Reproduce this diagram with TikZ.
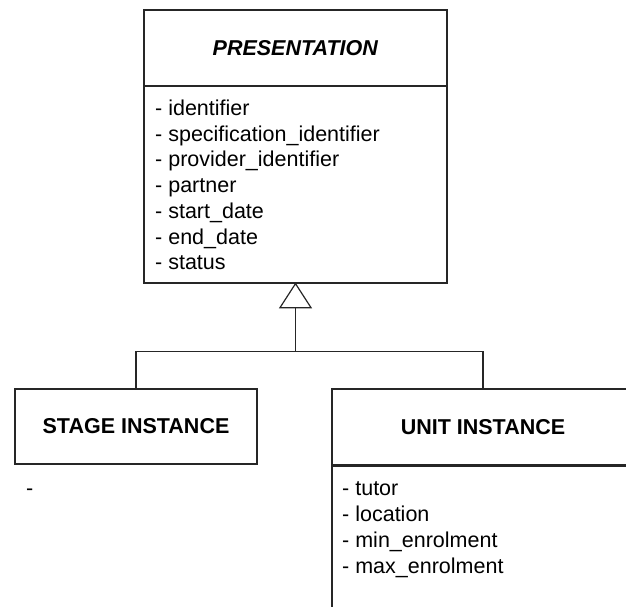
\documentclass[tikz,border=0pt]{standalone}
\usepackage{fontspec}
\setmainfont{Liberation Sans}
\usetikzlibrary{calc}
\begin{document}
\begin{tikzpicture}[
  x={(1pt,0)}, y={(0,-1pt)},
  every node/.style={font=\fontsize{21.5}{25.7}\selectfont},
  umlbox/.style={draw=black!85, line width=1.3pt, rectangle, inner sep=0pt},
  attr/.style={inner sep=0pt, anchor=base west},
  link/.style={draw=black!85, line width=1.2pt},
]
\useasboundingbox (0,0) rectangle (626,607);
\clip (0,0) rectangle (626,607);

% Abstract superclass
\node[umlbox, minimum width=303pt, minimum height=76pt] (presH) at (295.5,48)
  {\textbf{\textit{PRESENTATION}}};
\node[umlbox, minimum width=303pt, minimum height=197pt] (presB) at (295.5,184.5) {};
\foreach \t [count=\i] in {identifier, specification\_identifier, provider\_identifier,
    partner, start\_date, end\_date, status}
  \node[attr] (pa\i) at (155,115.5+25.7*\i-25.7) {- \t};

% Subclasses
\node[umlbox, minimum width=242pt, minimum height=75pt] (stageH) at (136,426.5)
  {\textbf{STAGE INSTANCE}};
\node[attr] (sa1) at (26,495.5) {-};

\node[umlbox, minimum width=302pt, minimum height=76pt] (unitH) at (483,427)
  {\textbf{UNIT INSTANCE}};
\node[umlbox, minimum width=302pt, minimum height=160pt, anchor=north] (unitB) at (unitH.south) {};
\foreach \t [count=\i] in {tutor, location, min\_enrolment, max\_enrolment}
  \node[attr] (ua\i) at (342,495.5+26*\i-26) {- \t};

% Generalisation arrow
\coordinate (apex) at (presB.south);
\coordinate (tb) at ($(apex)+(0,24)$);
\draw[link, line join=miter] (apex) -- ++(-15.5,24) -- ++(31,0) -- cycle;
\coordinate (bar) at ($(tb)+(0,44)$);
\draw[link] (tb) -- (bar);
\draw[link] (bar) -| (stageH.north);
\draw[link] (bar) -| (unitH.north);
\end{tikzpicture}
\end{document}
